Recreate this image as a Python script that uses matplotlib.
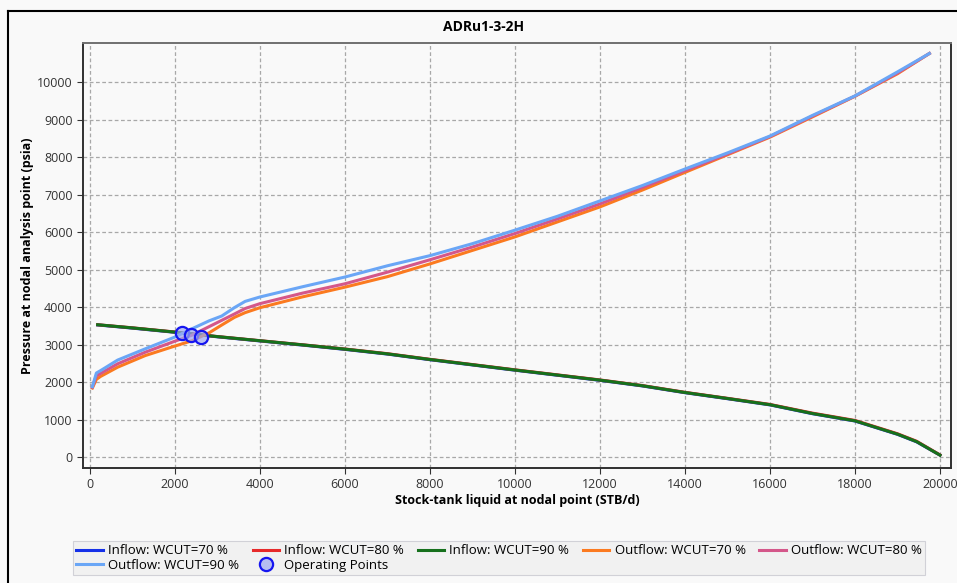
#Description: Nodal analysis plot - inflow / outflow curves for ADRu1-3-2H

#Libraries
import numpy as np
import matplotlib
matplotlib.use('Agg')
import matplotlib.pyplot as plt
from matplotlib.lines import Line2D

plt.rcParams['font.family'] = ['Open Sans', 'DejaVu Sans']

#Inflow (IPR) data, all three water cuts nearly coincide
x_in = [180, 1000, 2000, 3000, 4000, 5000, 6000, 7000, 8000, 9000, 10000,
        11000, 12000, 13000, 14000, 15000, 16000, 17000, 18000, 19000, 19450, 20000]
in_70 = [3522, 3437, 3325, 3205, 3095, 2985, 2870, 2745, 2595, 2455, 2315,
         2180, 2045, 1895, 1715, 1555, 1390, 1155, 960, 605, 405, 50]
in_80 = [3527, 3445, 3333, 3212, 3102, 2993, 2880, 2755, 2605, 2465, 2325,
         2190, 2055, 1905, 1725, 1565, 1402, 1170, 975, 620, 420, 55]
in_90 = [3527, 3442, 3330, 3210, 3100, 2990, 2876, 2750, 2600, 2460, 2320,
         2185, 2050, 1900, 1720, 1560, 1395, 1160, 965, 610, 410, 50]

#Outflow (VLP) data
x_out = [55, 150, 250, 650, 1300, 2000, 2400, 2800, 3100, 3400, 3650, 4000,
         5000, 6000, 7000, 8000, 9000, 10000, 11000, 12000, 13000, 14000,
         15000, 16000, 17000, 18000, 19000, 19750]
out_70 = [1840, 2070, 2150, 2395, 2705, 2960, 3100, 3310, 3520, 3725, 3850, 3982,
          4270, 4530, 4810, 5150, 5510, 5870, 6270, 6670, 7120, 7590,
          8060, 8530, 9070, 9620, 10220, 10760]
out_80 = [1860, 2165, 2230, 2485, 2795, 3090, 3250, 3475, 3645, 3815, 3960, 4090,
          4370, 4620, 4930, 5260, 5600, 5960, 6350, 6750, 7190, 7635,
          8080, 8545, 9090, 9625, 10240, 10760]
out_90 = [1875, 2240, 2305, 2585, 2885, 3200, 3420, 3630, 3760, 3985, 4150, 4268,
          4540, 4800, 5100, 5370, 5690, 6050, 6420, 6830, 7240, 7680,
          8110, 8560, 9110, 9630, 10270, 10760]

#Operating points
op_x = [2171, 2381, 2615]
op_y = [3295, 3241, 3205]

xticks = np.arange(0, 20001, 2000)
yticks = np.arange(0, 10001, 1000)

bg = '#f9f9f9'
fig = plt.figure(figsize=(9.57, 5.83), dpi=100, facecolor=bg)
ax = fig.add_axes([83/957, 1-468/583, 868/957, 425/583], facecolor=bg)

lw = 2.2
ax.plot(x_in, in_70, color='#1530e8', lw=lw, label='Inflow: WCUT=70 %')
ax.plot(x_in, in_80, color='#e62a2a', lw=lw, label='Inflow: WCUT=80 %')
ax.plot(x_in, in_90, color='#16701c', lw=lw, label='Inflow: WCUT=90 %')
ax.plot(x_out, out_70, color='#fb7a20', lw=lw, label='Outflow: WCUT=70 %')
ax.plot(x_out, out_80, color='#d4578a', lw=lw, label='Outflow: WCUT=80 %')
ax.plot(x_out, out_90, color='#6aa6f6', lw=lw, label='Outflow: WCUT=90 %')
ax.plot(op_x, op_y, ls='none', marker='o', ms=9.5, mew=1.6, mec='#1515f0',
        mfc=(0.62, 0.66, 0.95, 0.7), label='Operating Points', zorder=5)

ax.set_xlim(-165, 20259)
ax.set_ylim(-293, 11040)
ax.set_xticks(xticks)
ax.set_yticks(yticks)
ax.tick_params(labelsize=9, colors='#333333', length=4, width=0.8)
ax.grid(True, color='#a8a8a8', ls=(0, (3, 2)), lw=0.9)
for s in ax.spines.values():
    s.set_color('#303030')
    s.set_linewidth(1.4)
ax.spines['top'].set_color('#707070')

ax.set_xlabel('Stock-tank liquid at nodal point (STB/d)', fontsize=9, fontweight='bold', labelpad=2)
ax.set_ylabel('Pressure at nodal analysis point (psia)', fontsize=9, fontweight='bold', labelpad=2)
fig.text(484/957, 1-27/583, 'ADRu1-3-2H', fontsize=10, fontweight='bold', ha='center', va='center')

#Legend laid out row-wise (matplotlib fills columns)
h, l = ax.get_legend_handles_labels()
order = [0, 5, 1, 6, 2, 3, 4]
leg = fig.legend([h[i] for i in order], [l[i] for i in order], ncol=5,
                 loc='lower left', bbox_to_anchor=(73/957, 1-575/583, 852/957, 38/583),
                 mode='expand', fontsize=9.5, frameon=True, fancybox=False,
                 handlelength=2.0, handletextpad=0.4, borderpad=0.25,
                 labelspacing=0.1, columnspacing=0.3, borderaxespad=0)
leg.get_frame().set_facecolor('#f0f0f0')
leg.get_frame().set_edgecolor('#c8c8d0')
leg.get_frame().set_linewidth(0.8)

#Outer frame
fig.add_artist(Line2D([8/957, 8/957], [0, 1-11/583], transform=fig.transFigure, color='black', lw=1.5))
fig.add_artist(Line2D([8/957, 1], [1-11/583, 1-11/583], transform=fig.transFigure, color='black', lw=1.5))

plt.savefig('out.png', dpi=100, facecolor=bg)
